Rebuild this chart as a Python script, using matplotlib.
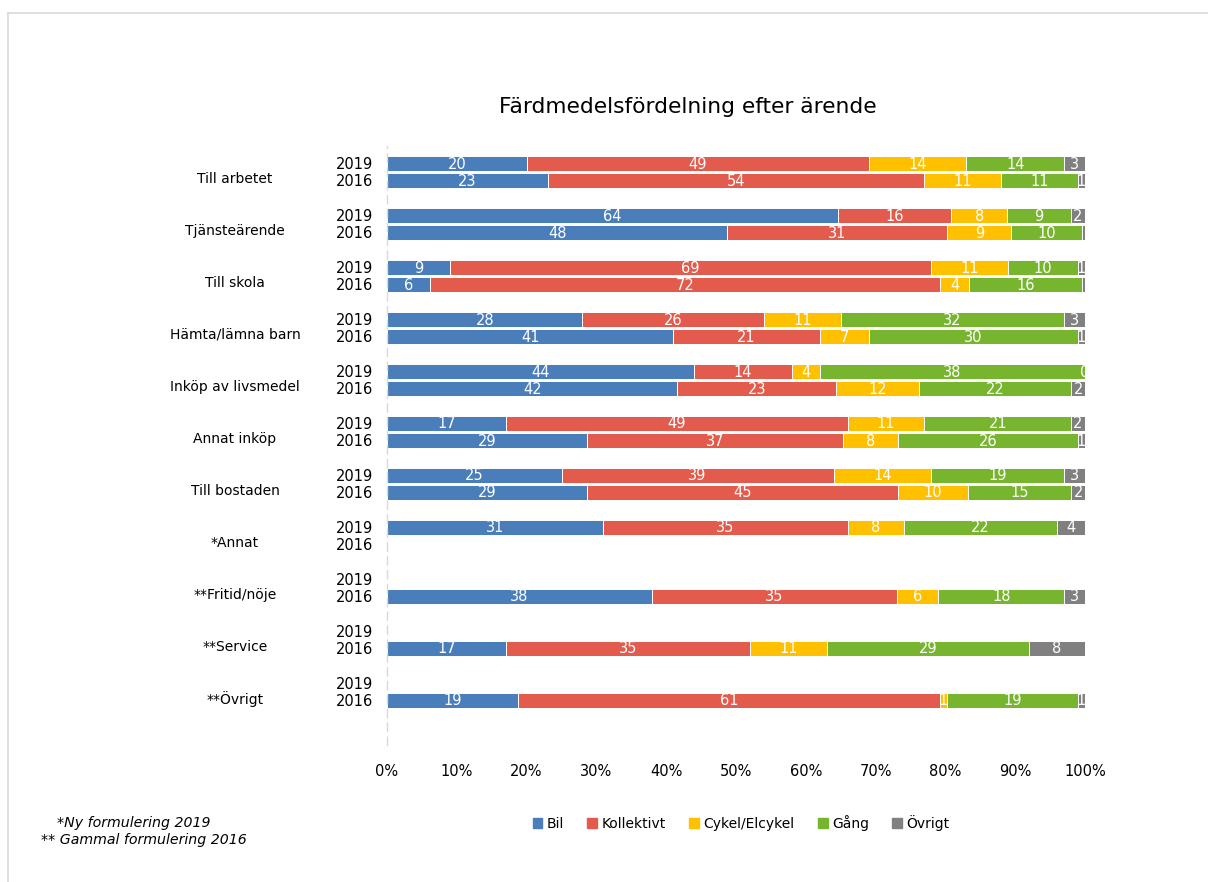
import numpy as np
import matplotlib
matplotlib.use('Agg')
import matplotlib.pyplot as plt
from matplotlib.lines import Line2D

nan = np.nan

categories = ['Till arbetet', 'Tjänsteärende', 'Till skola', 'Hämta/lämna barn',
              'Inköp av livsmedel', 'Annat inköp', 'Till bostaden', '*Annat',
              '**Fritid/nöje', '**Service', '**Övrigt']
years = ['2019', '2016']
modes = ['Bil', 'Kollektivt', 'Cykel/Elcykel', 'Gång', 'Övrigt']
colors = ['#4A7EBB', '#E35B4C', '#FFC000', '#77B52F', '#808080']

# 2019 values per mode (percent)
bil_2019 = [20, 64, 9, 28, 44, 17, 25, 31, nan, nan, nan]
kol_2019 = [49, 16, 69, 26, 14, 49, 39, 35, nan, nan, nan]
cyk_2019 = [14, 8, 11, 11, 4, 11, 14, 8, nan, nan, nan]
gang_2019 = [14, 9, 10, 32, 38, 21, 19, 22, nan, nan, nan]
ovr_2019 = [3, 2, 1, 3, 0, 2, 3, 4, nan, nan, nan]

# 2016 values per mode (percent)
bil_2016 = [23, 48, 6, 41, 42, 29, 29, nan, 38, 17, 19]
kol_2016 = [54, 31, 72, 21, 23, 37, 45, nan, 35, 35, 61]
cyk_2016 = [11, 9, 4, 7, 12, 8, 10, nan, 6, 11, 1]
gang_2016 = [11, 10, 16, 30, 22, 26, 15, nan, 18, 29, 19]
ovr_2016 = [1, 0.4, 0.4, 1, 2, 1, 2, nan, 3, 8, 1]

data_2019 = np.array([bil_2019, kol_2019, cyk_2019, gang_2019, ovr_2019], dtype=float)
data_2016 = np.array([bil_2016, kol_2016, cyk_2016, gang_2016, ovr_2016], dtype=float)

fig = plt.figure(figsize=(12.08, 8.82), dpi=100)
W, H = 1208, 882
ax = fig.add_axes([387 / W, 1 - 745 / H, 698 / W, 599 / H])

off = 0.1635
bar_h = 0.29
ypos = np.arange(len(categories))

for data, dy in [(data_2019, -off), (data_2016, off)]:
    for i in range(len(categories)):
        col = data[:, i]
        if np.all(np.isnan(col)):
            continue
        total = np.nansum(col)
        left = 0.0
        for j, v in enumerate(col):
            w = v / total * 100
            ax.barh(ypos[i] + dy, w, left=left, height=bar_h, color=colors[j],
                    edgecolor='white', linewidth=0.7)
            if v >= 1 or v == 0:
                ax.text(left + w / 2, ypos[i] + dy + 0.01, '%d' % round(v),
                        color='white', ha='center', va='center', fontsize=10.5)
            left += w

ax.set_xlim(0, 100)
ax.set_ylim(11.02, -0.5)
ax.set_xticks(np.arange(0, 101, 10))
ax.set_xticklabels(['%d%%' % t for t in range(0, 101, 10)], fontsize=10.5)
ax.tick_params(axis='x', length=0, pad=14)

yt = []
yl = []
for i in ypos:
    yt += [i - off, i + off]
    yl += years
ax.set_yticks(yt)
ax.set_yticklabels(yl, fontsize=10.5)
ax.tick_params(axis='y', length=0, pad=10)

for s in ['top', 'right', 'bottom']:
    ax.spines[s].set_visible(False)
ax.spines['left'].set_color('#d9d9d9')
ax.spines['left'].set_linestyle((0, (6, 4)))
ax.spines['left'].set_linewidth(1)

for i, c in enumerate(categories):
    ax.text(-0.2178, i + 0.13, c, transform=ax.get_yaxis_transform(), ha='center',
            va='center', fontsize=10)

fig.text(688 / W, 1 - 107 / H, 'Färdmedelsfördelning efter ärende',
         ha='center', va='center', fontsize=15.7)

handles = [plt.Rectangle((0, 0), 1, 1, color=c) for c in colors]
fig.legend(handles, modes, loc='center', bbox_to_anchor=(741 / W, 1 - 823 / H),
           ncol=5, frameon=False, fontsize=10, handlelength=0.7,
           handleheight=0.7, handletextpad=0.3, columnspacing=1.7)

fig.text(57 / W, 1 - 823 / H, '*Ny formulering 2019', style='italic',
         ha='left', va='center', fontsize=10.2)
fig.text(41 / W, 1 - 840 / H, '** Gammal formulering 2016', style='italic',
         ha='left', va='center', fontsize=10.2)

# light frame around the chart area
fig.add_artist(Line2D([8 / W, 8 / W], [0, 1 - 13 / H], transform=fig.transFigure,
                      color='#d9d9d9', linewidth=1.2))
fig.add_artist(Line2D([8 / W, 1], [1 - 13 / H, 1 - 13 / H], transform=fig.transFigure,
                      color='#d9d9d9', linewidth=1.2))

fig.savefig('out.png', dpi=100)
